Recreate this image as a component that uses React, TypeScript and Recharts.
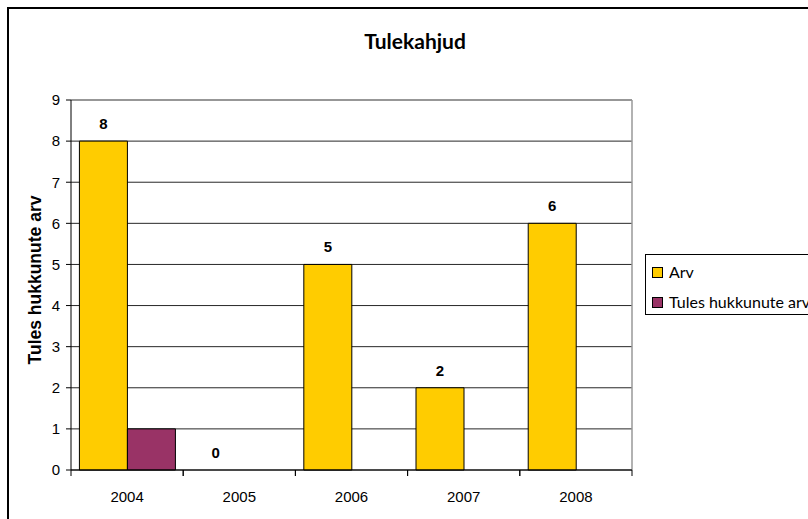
import React from 'react';
import { BarChart, Bar, XAxis, YAxis, CartesianGrid, LabelList, Cell } from 'recharts';

const years = ['2004', '2005', '2006', '2007', '2008'];
const arv = [8, 0, 5, 2, 6];
const hukkunud = [1, 0, 0, 0, 0];
const yTicks = [0, 1, 2, 3, 4, 5, 6, 7, 8, 9];

const data = years.map((y, i) => ({ year: y, arv: arv[i], hukkunud: hukkunud[i] }));

const FONT = '"Liberation Sans", Arial, sans-serif';
const CAL = 'Lato, "Open Sans", sans-serif';

const labelStyle = { fontFamily: FONT, fontSize: 15, fontWeight: 'bold' as const, fill: '#000' };

const XTick = (props: any) => {
  const { x, y, payload } = props;
  const half = payload && payload.offset ? payload.offset : 56;
  return (
    <g>
      <line x1={x - half} y1={y - 8} x2={x - half} y2={y - 2} stroke="#000" />
      <line x1={x + half} y1={y - 8} x2={x + half} y2={y - 2} stroke="#000" />
      <text x={x} y={y + 24} textAnchor="middle" fontFamily={FONT} fontSize={15} fill="#000">
        {payload.value}
      </text>
    </g>
  );
};

const BarLabel = (props: any) => {
  const { x, y, width, value } = props;
  return (
    <text x={Number(x) + Number(width) / 2} y={Number(y) - 12} textAnchor="middle" {...labelStyle}>
      {value}
    </text>
  );
};

const YLabel = (props: any) => {
  const vb = props.viewBox || { x: 0, y: 100, width: 71, height: 370 };
  const cx = 35;
  const cy = vb.y + vb.height / 2 - 5;
  return (
    <text
      x={cx}
      y={cy}
      transform={`rotate(-90, ${cx}, ${cy})`}
      textAnchor="middle"
      dominantBaseline="central"
      fontFamily={FONT}
      fontSize={17.5}
      fontWeight="bold"
      fill="#000"
    >
      Tules hukkunute arv
    </text>
  );
};

const LegendBox = () => (
  <div
    style={{
      position: 'absolute',
      left: 645,
      top: 254,
      width: 200,
      height: 61,
      border: '1px solid #000',
      boxSizing: 'border-box',
      background: '#fff',
      fontFamily: CAL,
      fontSize: 16,
      color: '#000',
    }}
  >
    {[
      { name: 'Arv', color: '#FFCC00' },
      { name: 'Tules hukkunute arv', color: '#993366' },
    ].map((e, i) => (
      <div
        key={e.name}
        style={{
          position: 'absolute',
          left: 6,
          top: 11 + i * 30,
          height: 12,
          display: 'flex',
          alignItems: 'center',
          whiteSpace: 'nowrap',
        }}
      >
        <span
          style={{
            display: 'inline-block',
            width: 11,
            height: 11,
            boxSizing: 'border-box',
            background: e.color,
            border: '1px solid #000',
            marginRight: 6,
          }}
        />
        <span style={{ lineHeight: '12px' }}>{e.name}</span>
      </div>
    ))}
  </div>
);

export default function App() {
  return (
    <div style={{ position: 'absolute', left: 0, top: 0, width: 808, height: 519, overflow: 'hidden', background: '#fff' }}>
      <div
        style={{
          position: 'absolute',
          left: 7,
          top: 7,
          width: 840,
          height: 540,
          border: '2px solid #000',
          boxSizing: 'border-box',
        }}
      />
      <div
        style={{
          position: 'absolute',
          left: 315,
          top: 28,
          width: 200,
          textAlign: 'center',
          fontFamily: CAL,
          fontWeight: 'bold',
          fontSize: 21,
          color: '#000',
        }}
      >
        Tulekahjud
      </div>
      <div style={{ position: 'absolute', left: 0, top: 0 }}>
        <BarChart
          width={808}
          height={519}
          data={data}
          margin={{ top: 100, right: 176, bottom: 19, left: 0 }}
          barCategoryGap="7.5%"
          barGap={0}
        >
          <CartesianGrid vertical={false} stroke="#000" strokeOpacity={0.85} />
          <CartesianGrid
            horizontal={true}
            vertical={true}
            horizontalCoordinatesGenerator={({ offset }: any) => [offset.top]}
            verticalCoordinatesGenerator={({ offset }: any) => [offset.left + offset.width]}
            stroke="#999"
            strokeWidth={1.5}
          />
          <XAxis
            dataKey="year"
            height={30}
            axisLine={{ stroke: '#000' }}
            tickLine={false}
            tick={<XTick />}
            interval={0}
          />
          <YAxis
            width={71}
            domain={[0, 9]}
            ticks={yTicks}
            interval={0}
            axisLine={{ stroke: '#000' }}
            tickLine={{ stroke: '#000' }}
            tickSize={5}
            tickMargin={6}
            tick={{ fontFamily: FONT, fontSize: 15, fill: '#000' }}
            label={<YLabel />}
          />
          <Bar
            dataKey="arv"
            fill="#FFCC00"
            stroke="#000"
            strokeWidth={1}
            isAnimationActive={false}
            minPointSize={(v: any) => (Number(v) === 0 ? 0.001 : 0)}
          >
            {arv.map((v, i) => (
              <Cell key={`c-${i}`} fill="#FFCC00" stroke={v === 0 ? 'none' : '#000'} />
            ))}
            <LabelList dataKey="arv" content={<BarLabel />} />
          </Bar>
          <Bar dataKey="hukkunud" fill="#993366" stroke="#000" strokeWidth={1} isAnimationActive={false} />
        </BarChart>
      </div>
      <LegendBox />
    </div>
  );
}
